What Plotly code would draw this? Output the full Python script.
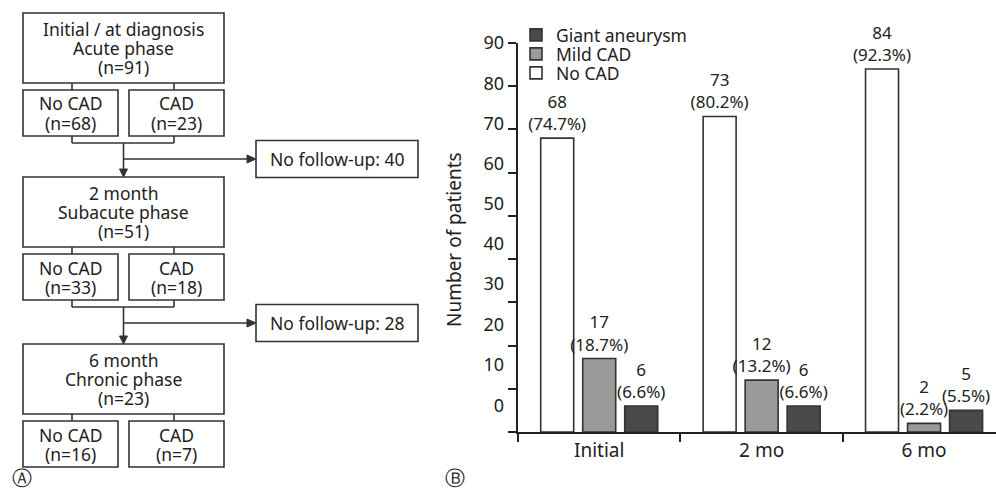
import plotly.graph_objects as go

W, H = 996, 491

# ---------------- data: panel B ----------------
categories = ["Initial", "2 mo", "6 mo"]
no_cad = [68, 73, 84]
mild_cad = [17, 12, 2]
giant_aneurysm = [6, 6, 5]
no_cad_pct = [74.7, 80.2, 92.3]
mild_cad_pct = [18.7, 13.2, 2.2]
giant_pct = [6.6, 6.6, 5.5]
y_tick_values = [0, 10, 20, 30, 40, 50, 60, 70, 80, 90]
y_tick_text = ["0", "10", "20", "30", "40", "50", "60", "70", "80", "90"]
y_label_pos = [6.2, 15.5, 24.9, 34.2, 43.5, 52.8, 62.1, 71.4, 80.7, 90.0]

# ---------------- data: panel A ----------------
stage_line1 = ["Initial / at diagnosis", "2 month", "6 month"]
stage_line2 = ["Acute phase", "Subacute phase", "Chronic phase"]
stage_n = [91, 51, 23]
stage_no_cad_n = [68, 33, 16]
stage_cad_n = [23, 18, 7]
no_follow_up = [40, 28]

FONT = "Noto Sans"
INK = "#222222"
LINE = "#333333"


def X(px):
    return px / W


def Y(py):
    return 1 - py / H


fig = go.Figure()


def add_bar(name, vals, pct, color, legend):
    fig.add_trace(go.Bar(
        x=categories, y=vals, name=name,
        marker=dict(color=color, line=dict(color=LINE, width=1.6)),
        text=[f"{v}<br>({p}%)" for v, p in zip(vals, pct)],
        textposition="outside", constraintext="none", cliponaxis=False,
        textfont=dict(size=17, color=INK, family=FONT),
        legend=legend, hoverinfo="skip",
    ))


add_bar("No CAD", no_cad, no_cad_pct, "#ffffff", "legend3")
add_bar("Mild CAD", mild_cad, mild_cad_pct, "#9a9a9a", "legend2")
add_bar("Giant aneurysm", giant_aneurysm, giant_pct, "#4a4a4a", "legend")

# carrier for the tick-label axis (draws nothing)
fig.add_trace(go.Scatter(x=categories, y=[None] * len(categories), yaxis="y2",
                         mode="markers", showlegend=False, hoverinfo="skip"))

shapes = []
annotations = []


def rect(x0, y0, x1, y1):
    shapes.append(dict(type="rect", xref="paper", yref="paper",
                       x0=X(x0), x1=X(x1), y0=Y(y1), y1=Y(y0),
                       line=dict(color=LINE, width=1.6), fillcolor="rgba(0,0,0,0)"))


def line(x0, y0, x1, y1):
    shapes.append(dict(type="line", xref="paper", yref="paper",
                       x0=X(x0), x1=X(x1), y0=Y(y0), y1=Y(y1),
                       line=dict(color=LINE, width=1.6)))


def tri(points):
    p = "M " + " L ".join(f"{X(a)},{Y(b)}" for a, b in points) + " Z"
    shapes.append(dict(type="path", xref="paper", yref="paper", path=p,
                       fillcolor=LINE, line=dict(color=LINE, width=1)))


def text(px, py, s, size=17.5):
    annotations.append(dict(xref="paper", yref="paper", x=X(px), y=Y(py), text=s,
                            showarrow=False, xanchor="center", yanchor="middle",
                            font=dict(size=size, color=INK, family=FONT)))


# ---------------- flowchart geometry ----------------
main_tops = [13, 177, 344]
MX0, MX1, MH = 23, 224, 70
SL0, SL1, SR0, SR1 = 23, 118, 129, 224
SUB_GAP, SUB_H = 7, 46
CL, CR, CM = 72, 174, 123.5
FX0, FX1, FH = 256, 418, 37

for i, top in enumerate(main_tops):
    bot = top + MH
    rect(MX0, top, MX1, bot)
    cy = (top + bot) / 2
    text(CM, cy - 19, stage_line1[i])
    text(CM, cy, stage_line2[i])
    text(CM, cy + 19, f"(n={stage_n[i]})")
    st, sb = bot + SUB_GAP, bot + SUB_GAP + SUB_H
    rect(SL0, st, SL1, sb)
    rect(SR0, st, SR1, sb)
    scy = (st + sb) / 2
    text((SL0 + SL1) / 2, scy - 9.5, "No CAD")
    text((SL0 + SL1) / 2, scy + 9.5, f"(n={stage_no_cad_n[i]})")
    text((SR0 + SR1) / 2, scy - 9.5, "CAD")
    text((SR0 + SR1) / 2, scy + 9.5, f"(n={stage_cad_n[i]})")
    line(CL, bot, CL, st)
    line(CR, bot, CR, st)
    if i < len(main_tops) - 1:
        jy = sb + 7
        nxt = main_tops[i + 1]
        line(CL, sb, CL, jy)
        line(CR, sb, CR, jy)
        line(CL, jy, CR, jy)
        line(CM, jy, CM, nxt - 7)
        tri([(CM - 4, nxt - 8), (CM + 4, nxt - 8), (CM, nxt)])
        ay = jy + 16
        line(CM, ay, FX0 - 8, ay)
        tri([(FX0 - 9, ay - 4), (FX0 - 9, ay + 4), (FX0, ay)])
        rect(FX0, ay - FH / 2, FX1, ay + FH / 2)
        text((FX0 + FX1) / 2, ay, f"No follow-up: {no_follow_up[i]}")

text(22, 477, "Ⓐ", 20)
text(455, 477, "Ⓑ", 20)

annotations.append(dict(xref="paper", yref="paper", x=X(454), y=Y(240),
                        text="Number of patients", textangle=-90, showarrow=False,
                        xanchor="center", yanchor="middle",
                        font=dict(size=19, color=INK, family=FONT)))

legend_common = dict(xref="paper", yref="paper", xanchor="left", yanchor="middle",
                     bgcolor="rgba(0,0,0,0)", borderwidth=0,
                     font=dict(size=17.5, color=INK, family=FONT), itemclick=False)

fig.update_layout(
    width=W, height=H, autosize=False,
    margin=dict(l=0, r=0, t=0, b=0, autoexpand=False),
    paper_bgcolor="white", plot_bgcolor="white",
    font=dict(family=FONT, color=INK),
    barmode="group", bargap=0.224, bargroupgap=0.2145,
    showlegend=True,
    legend=dict(x=X(516), y=Y(35), **legend_common),
    legend2=dict(x=X(516), y=Y(54), **legend_common),
    legend3=dict(x=X(516), y=Y(73), **legend_common),
    xaxis=dict(domain=[X(518), 1], type="category", categoryorder="array",
               categoryarray=categories, range=[-0.5, 2.443],
               tickson="boundaries", ticks="outside", ticklen=8, tickwidth=1.6,
               tickcolor=INK, showline=True, linecolor=INK, linewidth=1.6,
               showgrid=False, zeroline=False,
               tickfont=dict(size=19, color=INK, family=FONT)),
    yaxis=dict(domain=[Y(432), Y(43)], range=[0, 90], tickmode="array",
               tickvals=y_tick_values, showticklabels=False, ticks="outside",
               ticklen=8, tickwidth=1.6, tickcolor=INK, showline=True,
               linecolor=INK, linewidth=1.6, showgrid=False, zeroline=False),
    yaxis2=dict(overlaying="y", anchor="x", side="left", range=[0, 90],
                tickmode="array", tickvals=y_label_pos, ticktext=y_tick_text,
                ticks="", showline=False, showgrid=False, zeroline=False,
                ticklabelstandoff=13,
                tickfont=dict(size=18, color=INK, family=FONT)),
    shapes=shapes, annotations=annotations,
)

fig.write_html("out.html", config={"displayModeBar": False},
               post_script="document.body.style.margin='0';"
                           "document.body.style.padding='0';")
